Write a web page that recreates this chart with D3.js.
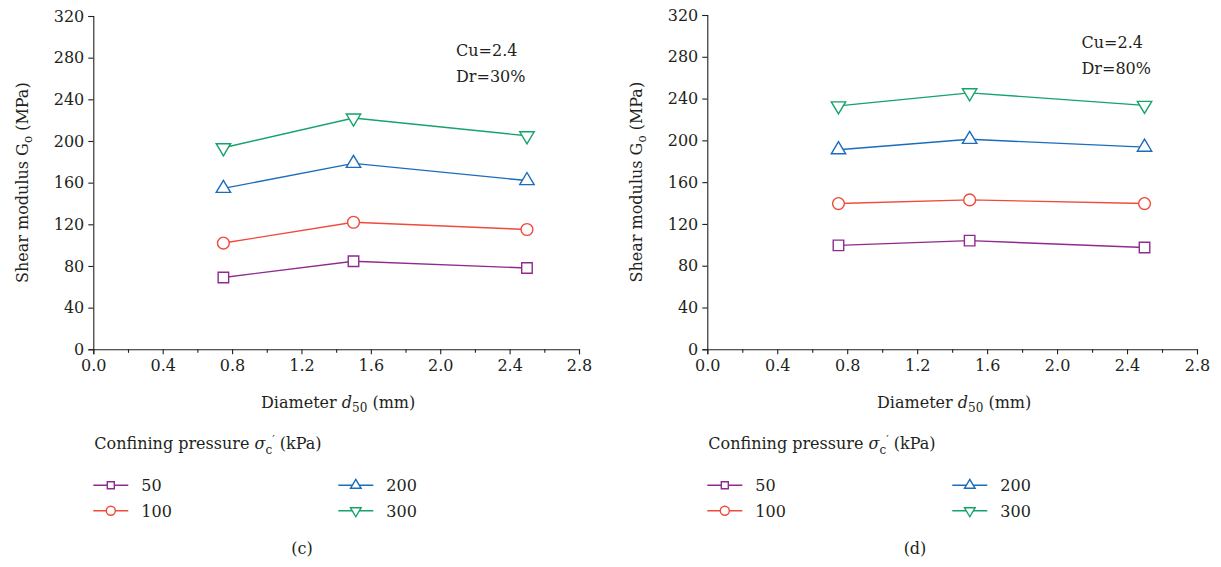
<!DOCTYPE html>
<html><head><meta charset="utf-8">
<script src="https://cdn.jsdelivr.net/npm/d3@7"></script>
<style>
body{margin:0;background:#fff;}
svg text{font-family:"DejaVu Serif","Liberation Serif",serif !important;fill:#231f20;}
</style></head>
<body>
<svg id="chart" width="1221" height="567"></svg>
<script>
// ---- data ----
const diameters = [0.75, 1.5, 2.5];
const pressures = ["50", "100", "200", "300"];
const xTicks = [0.0, 0.4, 0.8, 1.2, 1.6, 2.0, 2.4, 2.8];
const yTicks = [0, 40, 80, 120, 160, 200, 240, 280, 320];
// panel (c): Cu=2.4, Dr=30%
const c50  = [69, 84.5, 78];
const c100 = [102, 122, 115];
const c200 = [154.5, 178.5, 162];
const c300 = [193.5, 222, 205];
// panel (d): Cu=2.4, Dr=80%
const d50  = [99.5, 104, 97.5];
const d100 = [139.5, 143, 139.5];
const d200 = [191, 201, 193.5];
const d300 = [233, 245.5, 233.5];

const colors = ["#8f2a8e", "#ef4a3c", "#1b6cbc", "#14a36b"];
const shapes = ["square", "circle", "triangleUp", "triangleDown"];
const FONT = '"DejaVu Serif","Liberation Serif",serif';
const FS = "16px", FSsub = "12px";

const svg = d3.select("#chart");

function markerPath(shape, s) {
  const p = d3.path();
  if (shape === "square") {
    const h = s / 2;
    p.rect(-h, -h, s, s);
  } else if (shape === "circle") {
    p.arc(0, 0, s / 2, 0, 2 * Math.PI);
  } else if (shape === "triangleUp") {
    const w = s * 1.25, h = s * 1.05;
    p.moveTo(0, -h * 2 / 3); p.lineTo(w / 2, h / 3); p.lineTo(-w / 2, h / 3); p.closePath();
  } else {
    const w = s * 1.25, h = s * 1.05;
    p.moveTo(0, h * 2 / 3); p.lineTo(w / 2, -h / 3); p.lineTo(-w / 2, -h / 3); p.closePath();
  }
  return p.toString();
}
const markerSize = [10.5, 11.8, 11.5, 11.5];
const legendSize = [7, 9, 8.5, 8.5];

function panel(o) {
  const x = d3.scaleLinear().domain([0, 2.8]).range([o.x0, o.x1]);
  const y = d3.scaleLinear().domain([0, 320]).range([o.y0, o.y1]);
  const g = svg.append("g");

  g.append("g").attr("transform", `translate(${o.x0},0)`)
    .call(d3.axisLeft(y).tickValues(yTicks).tickSize(5).tickPadding(4).tickFormat(d3.format("d")));
  g.append("g").attr("transform", `translate(0,${o.y0})`)
    .call(d3.axisBottom(x).tickValues(d3.range(0.2, 2.8, 0.4)).tickSize(3.5).tickFormat(""))
    .select(".domain").remove();
  g.append("g").attr("transform", `translate(0,${o.y0})`)
    .call(d3.axisBottom(x).tickValues(xTicks).tickSize(5).tickPadding(5).tickFormat(d3.format(".1f")));
  g.selectAll(".domain, .tick line").attr("stroke", "#231f20").attr("stroke-width", 1.1);
  g.selectAll("g").attr("font-family", FONT);
  g.selectAll(".tick text").style("font-size", FS).attr("fill", "#231f20");

  const yl = g.append("text")
    .attr("transform", `translate(${o.x0 - 65},${(o.y0 + o.y1) / 2}) rotate(-90)`)
    .attr("text-anchor", "middle").style("font-size", FS);
  yl.append("tspan").text("Shear modulus G");
  yl.append("tspan").text("o").attr("dy", 4).style("font-size", FSsub);
  yl.append("tspan").text(" (MPa)").attr("dy", -4);

  const xl = g.append("text").attr("x", (o.x0 + o.x1) / 2 + 2).attr("y", o.y0 + 59)
    .attr("text-anchor", "middle").style("font-size", FS);
  xl.append("tspan").text("Diameter ");
  xl.append("tspan").text("d").style("font-style", "italic");
  xl.append("tspan").text("50").attr("dy", 4).style("font-size", FSsub);
  xl.append("tspan").text(" (mm)").attr("dy", -4);

  g.append("text").attr("x", o.annX).attr("y", o.annY).style("font-size", FS).text("Cu=2.4");
  g.append("text").attr("x", o.annX).attr("y", o.annY + 26).style("font-size", FS).text(o.dr);

  const line = d3.line().x((d, i) => x(diameters[i])).y(d => y(d));
  o.series.forEach((vals, k) => {
    g.append("path").datum(vals).attr("d", line)
      .attr("fill", "none").attr("stroke", colors[k]).attr("stroke-width", 1.4);
    g.selectAll(null).data(vals).enter().append("path")
      .attr("transform", (d, i) => `translate(${x(diameters[i])},${y(d)})`)
      .attr("d", markerPath(shapes[k], markerSize[k]))
      .attr("fill", "#fff").attr("stroke", colors[k]).attr("stroke-width", 1.4);
  });

  const lt = g.append("text").attr("x", o.x0 + 1).attr("y", o.y0 + 100).style("font-size", FS);
  lt.append("tspan").text("Confining pressure ");
  lt.append("tspan").text("σ").style("font-style", "italic");
  lt.append("tspan").text("c").attr("dy", 5).style("font-size", FSsub);
  lt.append("tspan").text("′").attr("dx", 0).attr("dy", -11).style("font-size", "11px");
  lt.append("tspan").text(" (kPa)").attr("dy", 6);

  const pos = [[0, 0], [0, 1], [1, 0], [1, 1]];
  pressures.forEach((p, k) => {
    const lx = o.x0 + pos[k][0] * 245;
    const ly = o.y0 + 136 + pos[k][1] * 25.5;
    g.append("line").attr("x1", lx).attr("x2", lx + 35).attr("y1", ly).attr("y2", ly)
      .attr("stroke", colors[k]).attr("stroke-width", 1.4);
    g.append("path").attr("transform", `translate(${lx + 17.5},${ly})`)
      .attr("d", markerPath(shapes[k], legendSize[k]))
      .attr("fill", "#fff").attr("stroke", colors[k]).attr("stroke-width", 1.4);
    g.append("text").attr("x", lx + 48).attr("y", ly + 6).style("font-size", FS).text(p);
  });

  g.append("text").attr("x", o.capX).attr("y", o.y0 + 205).attr("text-anchor", "middle")
    .style("font-size", FS).text(o.cap);
}

panel({x0: 93.3, x1: 579, y0: 349.3, y1: 16, annX: 456, annY: 56, dr: "Dr=30%",
       series: [c50, c100, c200, c300], cap: "(c)", capX: 302});
panel({x0: 707.3, x1: 1197, y0: 349.3, y1: 15, annX: 1081.5, annY: 48, dr: "Dr=80%",
       series: [d50, d100, d200, d300], cap: "(d)", capX: 915});
</script>
</body></html>
